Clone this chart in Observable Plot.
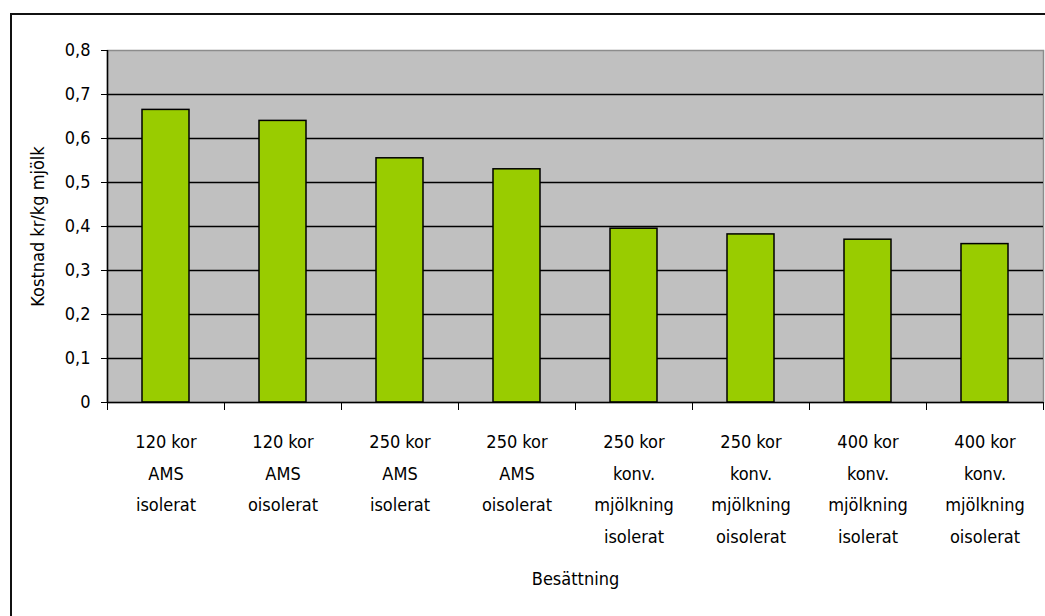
<!DOCTYPE html>
<html>
<head>
<meta charset="utf-8">
<script src="https://cdn.jsdelivr.net/npm/d3@7"></script>
<script src="https://cdn.jsdelivr.net/npm/@observablehq/plot@0.6"></script>
<style>
  html, body { margin: 0; padding: 0; background: #fff; }
  #wrap { position: relative; width: 1045px; height: 616px; overflow: hidden; }
  #border { position: absolute; left: 10px; top: 13px; width: 1100px; height: 700px; border: 2px solid #111; box-sizing: border-box; }
  #chart { position: absolute; left: 0; top: 0; }
</style>
</head>
<body>
<div id="wrap"><div id="border"></div><div id="chart"></div></div>
<script>
const categories = [
  "120 kor\nAMS\nisolerat",
  "120 kor\nAMS\noisolerat",
  "250 kor\nAMS\nisolerat",
  "250 kor\nAMS\noisolerat",
  "250 kor\nkonv.\nmjölkning\nisolerat",
  "250 kor\nkonv.\nmjölkning\noisolerat",
  "400 kor\nkonv.\nmjölkning\nisolerat",
  "400 kor\nkonv.\nmjölkning\noisolerat"
];
const values = [0.665, 0.64, 0.555, 0.53, 0.395, 0.382, 0.37, 0.36];
const yTicks = [0, 0.1, 0.2, 0.3, 0.4, 0.5, 0.6, 0.7, 0.8];
const xTitle = "Besättning";
const yTitle = "Kostnad kr/kg mjölk";

const data = categories.map((c, i) => ({i, label: c, value: values[i]}));
const fontFamily = "'Liberation Sans Narrow', 'DejaVu Sans Condensed', 'Arial Narrow', sans-serif";

const chart = Plot.plot({
  width: 1045,
  height: 616,
  marginLeft: 107,
  marginRight: 2,
  marginTop: 50,
  marginBottom: 214,
  style: {background: "transparent", fontFamily, fontSize: "18px", color: "#000"},
  x: {domain: [0, categories.length], axis: null},
  y: {domain: [0, 0.8], axis: null},
  marks: [
    Plot.frame({fill: "#c0c0c0", stroke: "#8c8c8c", strokeWidth: 1.5}),
    Plot.ruleY(yTicks.filter(d => d > 0 && d < 0.8), {stroke: "#000", strokeWidth: 1.5}),
    Plot.rectY(data, {x1: "i", x2: d => d.i + 1, y: "value", fill: "#99cc00", stroke: "#000", strokeWidth: 1.5, insetLeft: 35, insetRight: 35}),
    Plot.ruleY([0], {stroke: "#000", strokeWidth: 1.5}),
    Plot.ruleX([0], {stroke: "#000", strokeWidth: 1.5}),
    Plot.axisY({ticks: yTicks, tickSize: 6, tickPadding: 11, fontSize: 18,
      tickFormat: d => d === 0 ? "0" : d3.format(".1f")(d).replace(".", ","), label: null}),
    Plot.axisX({ticks: d3.range(0, categories.length + 1), tickSize: 8, tickFormat: () => "", label: null}),
    Plot.text(data, {x: d => d.i + 0.5, y: () => 0, text: "label", lineAnchor: "top", dy: 23, lineHeight: 1.76, fontSize: 18}),
    Plot.text([xTitle], {frameAnchor: "bottom", dy: 182, fontSize: 18}),
    Plot.text([yTitle], {frameAnchor: "left", dx: -69, rotate: -90, textAnchor: "middle", fontSize: 18})
  ]
});
document.getElementById("chart").appendChild(chart);
</script>
</body>
</html>
